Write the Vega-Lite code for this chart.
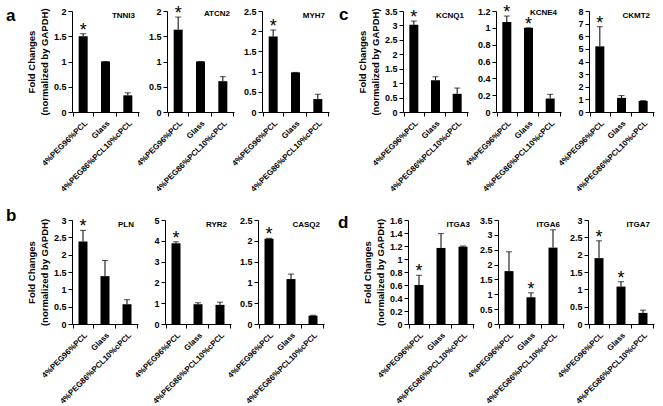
{
  "$schema": "https://vega.github.io/schema/vega-lite/v6.json",
  "background": "white",
  "padding": {"left": 6, "top": 4, "right": 5, "bottom": 5},
  "datasets": {
    "genes": [
      {"gene": "TNNI3", "cond": "4%PEG96%PCL", "value": 1.5, "hi": 1.55, "sig": "*"},
      {"gene": "TNNI3", "cond": "Glass", "value": 1.0, "hi": 1.0, "sig": ""},
      {"gene": "TNNI3", "cond": "4%PEG86%PCL10%cPCL", "value": 0.33, "hi": 0.38, "sig": ""},
      {"gene": "ATCN2", "cond": "4%PEG96%PCL", "value": 1.63, "hi": 1.88, "sig": "*"},
      {"gene": "ATCN2", "cond": "Glass", "value": 1.0, "hi": 1.0, "sig": ""},
      {"gene": "ATCN2", "cond": "4%PEG86%PCL10%cPCL", "value": 0.61, "hi": 0.7, "sig": ""},
      {"gene": "MYH7", "cond": "4%PEG96%PCL", "value": 1.87, "hi": 2.03, "sig": "*"},
      {"gene": "MYH7", "cond": "Glass", "value": 0.98, "hi": 0.98, "sig": ""},
      {"gene": "MYH7", "cond": "4%PEG86%PCL10%cPCL", "value": 0.32, "hi": 0.44, "sig": ""},
      {"gene": "KCNQ1", "cond": "4%PEG96%PCL", "value": 3.02, "hi": 3.15, "sig": "*"},
      {"gene": "KCNQ1", "cond": "Glass", "value": 1.1, "hi": 1.22, "sig": ""},
      {"gene": "KCNQ1", "cond": "4%PEG86%PCL10%cPCL", "value": 0.63, "hi": 0.83, "sig": ""},
      {"gene": "KCNE4", "cond": "4%PEG96%PCL", "value": 1.07, "hi": 1.14, "sig": "*"},
      {"gene": "KCNE4", "cond": "Glass", "value": 1.0, "hi": 1.0, "sig": "*"},
      {"gene": "KCNE4", "cond": "4%PEG86%PCL10%cPCL", "value": 0.16, "hi": 0.21, "sig": ""},
      {"gene": "CKMT2", "cond": "4%PEG96%PCL", "value": 5.2, "hi": 6.75, "sig": "*"},
      {"gene": "CKMT2", "cond": "Glass", "value": 1.12, "hi": 1.3, "sig": ""},
      {"gene": "CKMT2", "cond": "4%PEG86%PCL10%cPCL", "value": 0.88, "hi": 0.9, "sig": ""},
      {"gene": "PLN", "cond": "4%PEG96%PCL", "value": 2.38, "hi": 2.7, "sig": "*"},
      {"gene": "PLN", "cond": "Glass", "value": 1.38, "hi": 1.83, "sig": ""},
      {"gene": "PLN", "cond": "4%PEG86%PCL10%cPCL", "value": 0.57, "hi": 0.7, "sig": ""},
      {"gene": "RYR2", "cond": "4%PEG96%PCL", "value": 3.88, "hi": 3.95, "sig": "*"},
      {"gene": "RYR2", "cond": "Glass", "value": 0.95, "hi": 1.02, "sig": ""},
      {"gene": "RYR2", "cond": "4%PEG86%PCL10%cPCL", "value": 0.92, "hi": 1.05, "sig": ""},
      {"gene": "CASQ2", "cond": "4%PEG96%PCL", "value": 2.05, "hi": 2.06, "sig": "*"},
      {"gene": "CASQ2", "cond": "Glass", "value": 1.08, "hi": 1.2, "sig": ""},
      {"gene": "CASQ2", "cond": "4%PEG86%PCL10%cPCL", "value": 0.2, "hi": 0.21, "sig": ""},
      {"gene": "ITGA3", "cond": "4%PEG96%PCL", "value": 0.6, "hi": 0.75, "sig": "*"},
      {"gene": "ITGA3", "cond": "Glass", "value": 1.17, "hi": 1.39, "sig": ""},
      {"gene": "ITGA3", "cond": "4%PEG86%PCL10%cPCL", "value": 1.19, "hi": 1.2, "sig": ""},
      {"gene": "ITGA6", "cond": "4%PEG96%PCL", "value": 1.78, "hi": 2.43, "sig": ""},
      {"gene": "ITGA6", "cond": "Glass", "value": 0.9, "hi": 1.05, "sig": "*"},
      {"gene": "ITGA6", "cond": "4%PEG86%PCL10%cPCL", "value": 2.57, "hi": 3.17, "sig": ""},
      {"gene": "ITGA7", "cond": "4%PEG96%PCL", "value": 1.9, "hi": 2.4, "sig": "*"},
      {"gene": "ITGA7", "cond": "Glass", "value": 1.08, "hi": 1.22, "sig": "*"},
      {"gene": "ITGA7", "cond": "4%PEG86%PCL10%cPCL", "value": 0.32, "hi": 0.4, "sig": ""}
    ]
  },
  "data": {"name": "genes"},
  "spacing": 13,
  "vconcat": [
    {
      "spacing": 10,
      "hconcat": [
        {
          "title": {"text": "a", "anchor": "start", "fontSize": 17, "dx": -66, "dy": 24},
          "bounds": "flush",
          "spacing": 28,
          "hconcat": [
            {"width": 67, "height": 101, "title": {"text": "TNNI3"}, "transform": [{"filter": "datum.gene === 'TNNI3'"}],
             "encoding": {"x": {"field": "cond", "type": "nominal", "sort": ["4%PEG96%PCL", "Glass", "4%PEG86%PCL10%cPCL"], "title": null}},
             "layer": [
               {"mark": {"type": "bar", "size": 9}, "encoding": {"y": {"field": "value", "type": "quantitative", "scale": {"domain": [0, 2], "nice": false}, "axis": {"values": [0, 0.5, 1, 1.5, 2], "format": "~g", "title": ["Fold Changes", "(normalized by GAPDH)"]}}}},
               {"mark": "rule", "encoding": {"y": {"field": "value", "type": "quantitative", "axis": {"values": [0, 0.5, 1, 1.5, 2], "format": "~g", "title": ["Fold Changes", "(normalized by GAPDH)"]}}, "y2": {"field": "hi"}}},
               {"mark": {"type": "tick", "size": 6, "thickness": 1}, "encoding": {"y": {"field": "hi", "type": "quantitative", "axis": {"values": [0, 0.5, 1, 1.5, 2], "format": "~g", "title": ["Fold Changes", "(normalized by GAPDH)"]}}}},
               {"mark": {"type": "text", "fontSize": 18, "baseline": "alphabetic", "dy": 2}, "encoding": {"y": {"field": "hi", "type": "quantitative", "axis": {"values": [0, 0.5, 1, 1.5, 2], "format": "~g", "title": ["Fold Changes", "(normalized by GAPDH)"]}}, "text": {"field": "sig"}}}
             ]},
            {"width": 67, "height": 101, "title": {"text": "ATCN2"}, "transform": [{"filter": "datum.gene === 'ATCN2'"}],
             "encoding": {"x": {"field": "cond", "type": "nominal", "sort": ["4%PEG96%PCL", "Glass", "4%PEG86%PCL10%cPCL"], "title": null}},
             "layer": [
               {"mark": {"type": "bar", "size": 9}, "encoding": {"y": {"field": "value", "type": "quantitative", "scale": {"domain": [0, 2], "nice": false}, "axis": {"values": [0, 0.5, 1, 1.5, 2], "format": "~g", "title": null}}}},
               {"mark": "rule", "encoding": {"y": {"field": "value", "type": "quantitative", "axis": {"values": [0, 0.5, 1, 1.5, 2], "format": "~g", "title": null}}, "y2": {"field": "hi"}}},
               {"mark": {"type": "tick", "size": 6, "thickness": 1}, "encoding": {"y": {"field": "hi", "type": "quantitative", "axis": {"values": [0, 0.5, 1, 1.5, 2], "format": "~g", "title": null}}}},
               {"mark": {"type": "text", "fontSize": 18, "baseline": "alphabetic", "dy": 2}, "encoding": {"y": {"field": "hi", "type": "quantitative", "axis": {"values": [0, 0.5, 1, 1.5, 2], "format": "~g", "title": null}}, "text": {"field": "sig"}}}
             ]},
            {"width": 67, "height": 101, "title": {"text": "MYH7"}, "transform": [{"filter": "datum.gene === 'MYH7'"}],
             "encoding": {"x": {"field": "cond", "type": "nominal", "sort": ["4%PEG96%PCL", "Glass", "4%PEG86%PCL10%cPCL"], "title": null}},
             "layer": [
               {"mark": {"type": "bar", "size": 9}, "encoding": {"y": {"field": "value", "type": "quantitative", "scale": {"domain": [0, 2.5], "nice": false}, "axis": {"values": [0, 0.5, 1, 1.5, 2, 2.5], "format": "~g", "title": null}}}},
               {"mark": "rule", "encoding": {"y": {"field": "value", "type": "quantitative", "axis": {"values": [0, 0.5, 1, 1.5, 2, 2.5], "format": "~g", "title": null}}, "y2": {"field": "hi"}}},
               {"mark": {"type": "tick", "size": 6, "thickness": 1}, "encoding": {"y": {"field": "hi", "type": "quantitative", "axis": {"values": [0, 0.5, 1, 1.5, 2, 2.5], "format": "~g", "title": null}}}},
               {"mark": {"type": "text", "fontSize": 18, "baseline": "alphabetic", "dy": 2}, "encoding": {"y": {"field": "hi", "type": "quantitative", "axis": {"values": [0, 0.5, 1, 1.5, 2, 2.5], "format": "~g", "title": null}}, "text": {"field": "sig"}}}
             ]}
          ]
        },
        {
          "title": {"text": "c", "anchor": "start", "fontSize": 17, "dx": -64, "dy": 24},
          "bounds": "flush",
          "spacing": 28,
          "hconcat": [
            {"width": 65, "height": 101, "title": {"text": "KCNQ1"}, "transform": [{"filter": "datum.gene === 'KCNQ1'"}],
             "encoding": {"x": {"field": "cond", "type": "nominal", "sort": ["4%PEG96%PCL", "Glass", "4%PEG86%PCL10%cPCL"], "title": null}},
             "layer": [
               {"mark": {"type": "bar", "size": 9}, "encoding": {"y": {"field": "value", "type": "quantitative", "scale": {"domain": [0, 3.5], "nice": false}, "axis": {"values": [0, 0.5, 1, 1.5, 2, 2.5, 3, 3.5], "format": "~g", "title": ["Fold Changes", "(normalized by GAPDH)"]}}}},
               {"mark": "rule", "encoding": {"y": {"field": "value", "type": "quantitative", "axis": {"values": [0, 0.5, 1, 1.5, 2, 2.5, 3, 3.5], "format": "~g", "title": ["Fold Changes", "(normalized by GAPDH)"]}}, "y2": {"field": "hi"}}},
               {"mark": {"type": "tick", "size": 6, "thickness": 1}, "encoding": {"y": {"field": "hi", "type": "quantitative", "axis": {"values": [0, 0.5, 1, 1.5, 2, 2.5, 3, 3.5], "format": "~g", "title": ["Fold Changes", "(normalized by GAPDH)"]}}}},
               {"mark": {"type": "text", "fontSize": 18, "baseline": "alphabetic", "dy": 2}, "encoding": {"y": {"field": "hi", "type": "quantitative", "axis": {"values": [0, 0.5, 1, 1.5, 2, 2.5, 3, 3.5], "format": "~g", "title": ["Fold Changes", "(normalized by GAPDH)"]}}, "text": {"field": "sig"}}}
             ]},
            {"width": 65, "height": 101, "title": {"text": "KCNE4"}, "transform": [{"filter": "datum.gene === 'KCNE4'"}],
             "encoding": {"x": {"field": "cond", "type": "nominal", "sort": ["4%PEG96%PCL", "Glass", "4%PEG86%PCL10%cPCL"], "title": null}},
             "layer": [
               {"mark": {"type": "bar", "size": 9}, "encoding": {"y": {"field": "value", "type": "quantitative", "scale": {"domain": [0, 1.2], "nice": false}, "axis": {"values": [0, 0.2, 0.4, 0.6, 0.8, 1, 1.2], "format": "~g", "title": null}}}},
               {"mark": "rule", "encoding": {"y": {"field": "value", "type": "quantitative", "axis": {"values": [0, 0.2, 0.4, 0.6, 0.8, 1, 1.2], "format": "~g", "title": null}}, "y2": {"field": "hi"}}},
               {"mark": {"type": "tick", "size": 6, "thickness": 1}, "encoding": {"y": {"field": "hi", "type": "quantitative", "axis": {"values": [0, 0.2, 0.4, 0.6, 0.8, 1, 1.2], "format": "~g", "title": null}}}},
               {"mark": {"type": "text", "fontSize": 18, "baseline": "alphabetic", "dy": 2}, "encoding": {"y": {"field": "hi", "type": "quantitative", "axis": {"values": [0, 0.2, 0.4, 0.6, 0.8, 1, 1.2], "format": "~g", "title": null}}, "text": {"field": "sig"}}}
             ]},
            {"width": 65, "height": 101, "title": {"text": "CKMT2"}, "transform": [{"filter": "datum.gene === 'CKMT2'"}],
             "encoding": {"x": {"field": "cond", "type": "nominal", "sort": ["4%PEG96%PCL", "Glass", "4%PEG86%PCL10%cPCL"], "title": null}},
             "layer": [
               {"mark": {"type": "bar", "size": 9}, "encoding": {"y": {"field": "value", "type": "quantitative", "scale": {"domain": [0, 8], "nice": false}, "axis": {"values": [0, 1, 2, 3, 4, 5, 6, 7, 8], "format": "~g", "title": null}}}},
               {"mark": "rule", "encoding": {"y": {"field": "value", "type": "quantitative", "axis": {"values": [0, 1, 2, 3, 4, 5, 6, 7, 8], "format": "~g", "title": null}}, "y2": {"field": "hi"}}},
               {"mark": {"type": "tick", "size": 6, "thickness": 1}, "encoding": {"y": {"field": "hi", "type": "quantitative", "axis": {"values": [0, 1, 2, 3, 4, 5, 6, 7, 8], "format": "~g", "title": null}}}},
               {"mark": {"type": "text", "fontSize": 18, "baseline": "alphabetic", "dy": 2}, "encoding": {"y": {"field": "hi", "type": "quantitative", "axis": {"values": [0, 1, 2, 3, 4, 5, 6, 7, 8], "format": "~g", "title": null}}, "text": {"field": "sig"}}}
             ]}
          ]
        }
      ]
    },
    {
      "spacing": 14,
      "hconcat": [
        {
          "title": {"text": "b", "anchor": "start", "fontSize": 17, "dx": -66, "dy": 13},
          "bounds": "flush",
          "spacing": 27,
          "hconcat": [
            {"width": 66, "height": 104, "title": {"text": "PLN"}, "transform": [{"filter": "datum.gene === 'PLN'"}],
             "encoding": {"x": {"field": "cond", "type": "nominal", "sort": ["4%PEG96%PCL", "Glass", "4%PEG86%PCL10%cPCL"], "title": null}},
             "layer": [
               {"mark": {"type": "bar", "size": 9}, "encoding": {"y": {"field": "value", "type": "quantitative", "scale": {"domain": [0, 3], "nice": false}, "axis": {"values": [0, 0.5, 1, 1.5, 2, 2.5, 3], "format": "~g", "title": ["Fold Changes", "(normalized by GAPDH)"]}}}},
               {"mark": "rule", "encoding": {"y": {"field": "value", "type": "quantitative", "axis": {"values": [0, 0.5, 1, 1.5, 2, 2.5, 3], "format": "~g", "title": ["Fold Changes", "(normalized by GAPDH)"]}}, "y2": {"field": "hi"}}},
               {"mark": {"type": "tick", "size": 6, "thickness": 1}, "encoding": {"y": {"field": "hi", "type": "quantitative", "axis": {"values": [0, 0.5, 1, 1.5, 2, 2.5, 3], "format": "~g", "title": ["Fold Changes", "(normalized by GAPDH)"]}}}},
               {"mark": {"type": "text", "fontSize": 18, "baseline": "alphabetic", "dy": 2}, "encoding": {"y": {"field": "hi", "type": "quantitative", "axis": {"values": [0, 0.5, 1, 1.5, 2, 2.5, 3], "format": "~g", "title": ["Fold Changes", "(normalized by GAPDH)"]}}, "text": {"field": "sig"}}}
             ]},
            {"width": 66, "height": 104, "title": {"text": "RYR2"}, "transform": [{"filter": "datum.gene === 'RYR2'"}],
             "encoding": {"x": {"field": "cond", "type": "nominal", "sort": ["4%PEG96%PCL", "Glass", "4%PEG86%PCL10%cPCL"], "title": null}},
             "layer": [
               {"mark": {"type": "bar", "size": 9}, "encoding": {"y": {"field": "value", "type": "quantitative", "scale": {"domain": [0, 5], "nice": false}, "axis": {"values": [0, 1, 2, 3, 4, 5], "format": "~g", "title": null}}}},
               {"mark": "rule", "encoding": {"y": {"field": "value", "type": "quantitative", "axis": {"values": [0, 1, 2, 3, 4, 5], "format": "~g", "title": null}}, "y2": {"field": "hi"}}},
               {"mark": {"type": "tick", "size": 6, "thickness": 1}, "encoding": {"y": {"field": "hi", "type": "quantitative", "axis": {"values": [0, 1, 2, 3, 4, 5], "format": "~g", "title": null}}}},
               {"mark": {"type": "text", "fontSize": 18, "baseline": "alphabetic", "dy": 2}, "encoding": {"y": {"field": "hi", "type": "quantitative", "axis": {"values": [0, 1, 2, 3, 4, 5], "format": "~g", "title": null}}, "text": {"field": "sig"}}}
             ]},
            {"width": 66, "height": 104, "title": {"text": "CASQ2"}, "transform": [{"filter": "datum.gene === 'CASQ2'"}],
             "encoding": {"x": {"field": "cond", "type": "nominal", "sort": ["4%PEG96%PCL", "Glass", "4%PEG86%PCL10%cPCL"], "title": null}},
             "layer": [
               {"mark": {"type": "bar", "size": 9}, "encoding": {"y": {"field": "value", "type": "quantitative", "scale": {"domain": [0, 2.5], "nice": false}, "axis": {"values": [0, 0.5, 1, 1.5, 2, 2.5], "format": "~g", "title": null}}}},
               {"mark": "rule", "encoding": {"y": {"field": "value", "type": "quantitative", "axis": {"values": [0, 0.5, 1, 1.5, 2, 2.5], "format": "~g", "title": null}}, "y2": {"field": "hi"}}},
               {"mark": {"type": "tick", "size": 6, "thickness": 1}, "encoding": {"y": {"field": "hi", "type": "quantitative", "axis": {"values": [0, 0.5, 1, 1.5, 2, 2.5], "format": "~g", "title": null}}}},
               {"mark": {"type": "text", "fontSize": 18, "baseline": "alphabetic", "dy": 2}, "encoding": {"y": {"field": "hi", "type": "quantitative", "axis": {"values": [0, 0.5, 1, 1.5, 2, 2.5], "format": "~g", "title": null}}, "text": {"field": "sig"}}}
             ]}
          ]
        },
        {
          "title": {"text": "d", "anchor": "start", "fontSize": 17, "dx": -70, "dy": 20},
          "bounds": "flush",
          "spacing": 24,
          "hconcat": [
            {"width": 66, "height": 104, "title": {"text": "ITGA3"}, "transform": [{"filter": "datum.gene === 'ITGA3'"}],
             "encoding": {"x": {"field": "cond", "type": "nominal", "sort": ["4%PEG96%PCL", "Glass", "4%PEG86%PCL10%cPCL"], "title": null}},
             "layer": [
               {"mark": {"type": "bar", "size": 9}, "encoding": {"y": {"field": "value", "type": "quantitative", "scale": {"domain": [0, 1.6], "nice": false}, "axis": {"values": [0, 0.2, 0.4, 0.6, 0.8, 1, 1.2, 1.4, 1.6], "format": "~g", "title": ["Fold Changes", "(normalized by GAPDH)"]}}}},
               {"mark": "rule", "encoding": {"y": {"field": "value", "type": "quantitative", "axis": {"values": [0, 0.2, 0.4, 0.6, 0.8, 1, 1.2, 1.4, 1.6], "format": "~g", "title": ["Fold Changes", "(normalized by GAPDH)"]}}, "y2": {"field": "hi"}}},
               {"mark": {"type": "tick", "size": 6, "thickness": 1}, "encoding": {"y": {"field": "hi", "type": "quantitative", "axis": {"values": [0, 0.2, 0.4, 0.6, 0.8, 1, 1.2, 1.4, 1.6], "format": "~g", "title": ["Fold Changes", "(normalized by GAPDH)"]}}}},
               {"mark": {"type": "text", "fontSize": 18, "baseline": "alphabetic", "dy": 2}, "encoding": {"y": {"field": "hi", "type": "quantitative", "axis": {"values": [0, 0.2, 0.4, 0.6, 0.8, 1, 1.2, 1.4, 1.6], "format": "~g", "title": ["Fold Changes", "(normalized by GAPDH)"]}}, "text": {"field": "sig"}}}
             ]},
            {"width": 66, "height": 104, "title": {"text": "ITGA6"}, "transform": [{"filter": "datum.gene === 'ITGA6'"}],
             "encoding": {"x": {"field": "cond", "type": "nominal", "sort": ["4%PEG96%PCL", "Glass", "4%PEG86%PCL10%cPCL"], "title": null}},
             "layer": [
               {"mark": {"type": "bar", "size": 9}, "encoding": {"y": {"field": "value", "type": "quantitative", "scale": {"domain": [0, 3.5], "nice": false}, "axis": {"values": [0, 0.5, 1, 1.5, 2, 2.5, 3, 3.5], "format": "~g", "title": null}}}},
               {"mark": "rule", "encoding": {"y": {"field": "value", "type": "quantitative", "axis": {"values": [0, 0.5, 1, 1.5, 2, 2.5, 3, 3.5], "format": "~g", "title": null}}, "y2": {"field": "hi"}}},
               {"mark": {"type": "tick", "size": 6, "thickness": 1}, "encoding": {"y": {"field": "hi", "type": "quantitative", "axis": {"values": [0, 0.5, 1, 1.5, 2, 2.5, 3, 3.5], "format": "~g", "title": null}}}},
               {"mark": {"type": "text", "fontSize": 18, "baseline": "alphabetic", "dy": 2}, "encoding": {"y": {"field": "hi", "type": "quantitative", "axis": {"values": [0, 0.5, 1, 1.5, 2, 2.5, 3, 3.5], "format": "~g", "title": null}}, "text": {"field": "sig"}}}
             ]},
            {"width": 66, "height": 104, "title": {"text": "ITGA7"}, "transform": [{"filter": "datum.gene === 'ITGA7'"}],
             "encoding": {"x": {"field": "cond", "type": "nominal", "sort": ["4%PEG96%PCL", "Glass", "4%PEG86%PCL10%cPCL"], "title": null}},
             "layer": [
               {"mark": {"type": "bar", "size": 9}, "encoding": {"y": {"field": "value", "type": "quantitative", "scale": {"domain": [0, 3], "nice": false}, "axis": {"values": [0, 0.5, 1, 1.5, 2, 2.5, 3], "format": "~g", "title": null}}}},
               {"mark": "rule", "encoding": {"y": {"field": "value", "type": "quantitative", "axis": {"values": [0, 0.5, 1, 1.5, 2, 2.5, 3], "format": "~g", "title": null}}, "y2": {"field": "hi"}}},
               {"mark": {"type": "tick", "size": 6, "thickness": 1}, "encoding": {"y": {"field": "hi", "type": "quantitative", "axis": {"values": [0, 0.5, 1, 1.5, 2, 2.5, 3], "format": "~g", "title": null}}}},
               {"mark": {"type": "text", "fontSize": 18, "baseline": "alphabetic", "dy": 2}, "encoding": {"y": {"field": "hi", "type": "quantitative", "axis": {"values": [0, 0.5, 1, 1.5, 2, 2.5, 3], "format": "~g", "title": null}}, "text": {"field": "sig"}}}
             ]}
          ]
        }
      ]
    }
  ],
  "config": {
    "font": "Liberation Sans",
    "view": {"stroke": null},
    "bar": {"color": "black"},
    "rule": {"color": "black", "strokeWidth": 1},
    "tick": {"color": "black"},
    "text": {"color": "black", "font": "Liberation Sans"},
    "title": {"font": "Liberation Sans", "fontSize": 8, "fontWeight": "bold", "color": "black", "anchor": "end", "frame": "group", "dx": -4, "dy": 17},
    "axis": {"grid": false, "domainColor": "black", "tickColor": "black", "labelColor": "black", "labelFont": "Liberation Sans", "labelFontWeight": "bold", "titleFont": "Liberation Sans", "titleColor": "black", "titleFontWeight": "bold", "tickSize": 4},
    "axisX": {"labelAngle": -45, "labelFontSize": 8, "tickBand": "extent", "labelPadding": 3},
    "axisY": {"labelFontSize": 9, "titleFontSize": 9.5, "labelPadding": 2, "titlePadding": 4, "titleLineHeight": 13}
  }
}
